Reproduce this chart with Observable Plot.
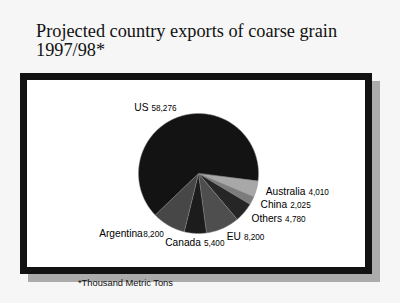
<!DOCTYPE html>
<html><head><meta charset="utf-8">
<script src="https://cdn.jsdelivr.net/npm/d3@7"></script>
<script src="https://cdn.jsdelivr.net/npm/@observablehq/plot@0.6"></script>
<style>
html,body{margin:0;padding:0;}
body{width:400px;height:303px;background:#f6f6f6;position:relative;overflow:hidden;}
#title{position:absolute;left:36px;top:22px;font-family:"Liberation Serif","Times New Roman",serif;font-size:18.3px;line-height:19px;color:#111;white-space:nowrap;}
#frame{position:absolute;left:20px;top:73px;width:352px;height:201px;box-sizing:border-box;border:7px solid #121212;background:#fff;box-shadow:8px 8px 0 #ababab;}
#chart svg{display:block;}
#note{position:absolute;left:78px;top:278px;font-family:"Liberation Sans",Arial,sans-serif;font-size:9.3px;line-height:10px;color:#111;white-space:nowrap;}
</style>
</head><body>
<div id="title">Projected country exports of coarse grain<br>1997/98*</div>
<div id="frame"><div id="chart"></div></div>
<div id="note">*Thousand Metric Tons</div>
<script>
// Data (thousand metric tons)
const countries = ["Australia", "China", "Others", "EU", "Canada", "Argentina", "US"];
const exportValues = [4010, 2025, 4780, 8200, 5400, 8200, 58276];

// Layout
const W = 338, H = 187;
const cx = 171, cy = 93, r = 60;
const startDeg = 97;
const labelR = 1.16;
const shadeRange = ["#a8a8a8", "#7c7c7c", "#262626", "#4e4e4e", "#1c1c1c", "#474747", "#131313"];

const start = startDeg * Math.PI / 180;
const arcs = d3.pie().sort(null).startAngle(start).endAngle(start + 2 * Math.PI)(exportValues);

// slice outlines in unit-circle coordinates
const slicePoints = [];
arcs.forEach((a, k) => {
  const name = countries[k];
  slicePoints.push({name, x: 0, y: 0});
  const n = Math.max(2, Math.ceil((a.endAngle - a.startAngle) / (Math.PI / 180)));
  for (let s = 0; s <= n; s++) {
    const t = a.startAngle + (a.endAngle - a.startAngle) * s / n;
    slicePoints.push({name, x: Math.sin(t), y: -Math.cos(t)});
  }
});

const labelRows = arcs.map((a, k) => {
  const m = (a.startAngle + a.endAngle) / 2;
  const sx = Math.sin(m);
  return {
    name: countries[k],
    value: exportValues[k],
    x: labelR * sx,
    y: -labelR * Math.cos(m),
    side: sx > 0.3 ? "start" : sx < -0.3 ? "end" : "middle"
  };
});

const fmt = d3.format(",");
function addValue(index, scales, values, dimensions, context, next) {
  const g = next(index, scales, values, dimensions, context);
  d3.select(g).selectAll("text").each(function(i) {
    const row = labelRows[i];
    d3.select(this).append("tspan")
      .attr("dx", row.name === "Argentina" ? 0.5 : 3)
      .attr("font-size", 8.2)
      .text(fmt(row.value));
  });
  return g;
}

const textOpts = side => ({
  filter: d => d.side === side,
  x: "x", y: "y", text: "name",
  textAnchor: side,
  fontSize: 10.2,
  fill: "#000",
  render: addValue
});

const chart = Plot.plot({
  width: W, height: H,
  margin: 0,
  x: {domain: [-1, 1], range: [cx - r, cx + r], axis: null},
  y: {domain: [-1, 1], range: [cy - r, cy + r], axis: null},
  color: {domain: countries, range: shadeRange},
  style: {fontFamily: "'Liberation Sans', Arial, sans-serif", background: "white"},
  marks: [
    Plot.line(slicePoints, {x: "x", y: "y", z: "name", fill: "name", stroke: "#8c8c8c", strokeWidth: 0.5, curve: "linear-closed"}),
    Plot.text(labelRows, textOpts("start")),
    Plot.text(labelRows, textOpts("end")),
    Plot.text(labelRows, textOpts("middle"))
  ]
});
document.getElementById("chart").appendChild(chart);
</script>
</body></html>
